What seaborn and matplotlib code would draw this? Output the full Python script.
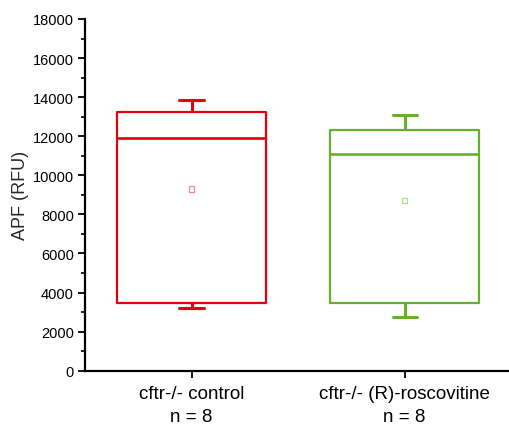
import matplotlib
matplotlib.use("Agg")
import matplotlib.pyplot as plt
from matplotlib.ticker import MultipleLocator
import seaborn as sns
import pandas as pd

# Data: five-number summaries and means
groups = ["cftr-/- control\nn = 8", "cftr-/- (R)-roscovitine\nn = 8"]
mins = [3220, 2760]
q1s = [3440, 3450]
medians = [11930, 11110]
q3s = [13230, 12340]
maxs = [13880, 13110]
means = [9300, 8720]
colors = ["#E3000F", "#69B02A"]
mean_colors = ["#F08A90", "#B5D98F"]

rows = []
for g, a, b, c, d, e in zip(groups, mins, q1s, medians, q3s, maxs):
    for v in (a, b, c, d, e):
        rows.append({"group": g, "value": v})
df = pd.DataFrame(rows)
mean_df = pd.DataFrame({"group": groups, "value": means})

sns.set_style("ticks")
plt.rcParams["font.family"] = ["Liberation Sans", "DejaVu Sans"]

fig = plt.figure(figsize=(5.09, 4.27), dpi=100)
ax = fig.add_axes([85 / 509, 1 - 371.7 / 427, 1 - 85 / 509, (371.7 - 20) / 427])

sns.boxplot(data=df, x="group", y="value", hue="group", palette=colors,
            fill=False, whis=(0, 100), width=0.70, linewidth=1.6,
            legend=False, ax=ax,
            medianprops=dict(linewidth=1.9),
            whiskerprops=dict(linewidth=2.2),
            capprops=dict(linewidth=2.2),
            capwidths=0.113)

sns.scatterplot(data=mean_df, x="group", y="value", hue="group",
                palette=mean_colors, marker="s", s=14,
                linewidth=0.9, legend=False, ax=ax, zorder=5)
# make mean markers hollow
for coll in ax.collections:
    fc = coll.get_facecolors()
    if len(fc):
        coll.set_edgecolors(fc)
        coll.set_facecolors("none")

ax.set_xlim(-0.5, 1.49)
ax.set_ylim(0, 18000)
ax.yaxis.set_major_locator(MultipleLocator(2000))
ax.yaxis.set_minor_locator(MultipleLocator(1000))
ax.set_xlabel("")
ax.set_ylabel("APF (RFU)", fontsize=13, labelpad=3)
sns.despine(ax=ax)
for s in ("left", "bottom"):
    ax.spines[s].set_linewidth(1.6)
    ax.spines[s].set_color("black")
ax.tick_params(axis="y", which="major", length=5, width=1.3, labelsize=10.5, pad=3, colors="black")
ax.tick_params(axis="y", which="minor", length=3, width=1.2, colors="black")
ax.tick_params(axis="x", which="major", length=5, width=1.3, labelsize=13.5, pad=5, colors="black")
for lab in ax.get_xticklabels():
    lab.set_linespacing(1.5)

fig.savefig("out.png", dpi=100)
